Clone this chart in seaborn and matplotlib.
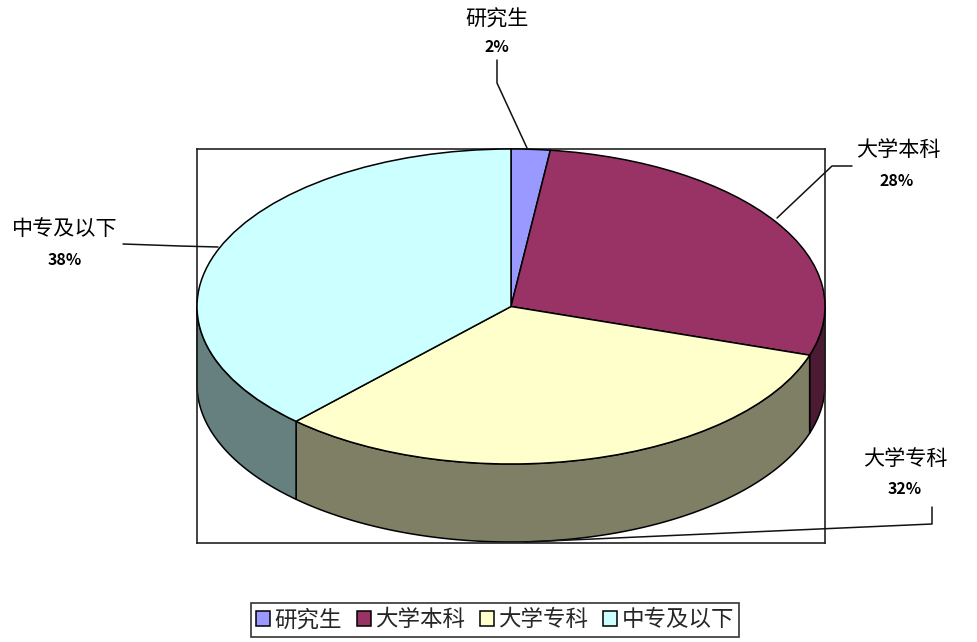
import numpy as np
import matplotlib
matplotlib.use("Agg")
import matplotlib.pyplot as plt
from matplotlib.lines import Line2D
import seaborn as sns

categories = ["研究生", "大学本科", "大学专科", "中专及以下"]
values = [2, 28, 32, 38]
percent_labels = ["2%", "28%", "32%", "38%"]
top_colors = ["#9999FF", "#993366", "#FFFFCC", "#CCFFFF"]
side_colors = ["#4D4D80", "#4D1A33", "#7F7F66", "#668080"]

sns.set_theme(style="white")
plt.rcParams["font.family"] = ["Noto Sans CJK SC", "DejaVu Sans"]

W, H = 978, 642
fig = plt.figure(figsize=(W / 100, H / 100), dpi=100, facecolor="white")


def fx(px):
    return px / W


def fy(py):
    return 1 - py / H


left, right, top, bottom = 197, 825, 149, 543
ax = fig.add_axes([fx(left), fy(bottom), fx(right - left), (bottom - top) / H])

palette = sns.color_palette(top_colors)
wedges, _ = ax.pie(
    values, colors=palette, startangle=90, counterclock=False, radius=1,
    wedgeprops=dict(edgecolor="black", linewidth=1.1, zorder=3),
)

# The axes keep data units: the pie is squashed by releasing the equal aspect.
ry_px = 157.5
depth = 78 / ry_px
ax.set_aspect("auto")
ax.set_xlim(-1, 1)
ax.set_ylim(1 - (bottom - top) / ry_px, 1)
ax.set_frame_on(True)
for s in ax.spines.values():
    s.set_visible(True)
    s.set_color("#222222")
    s.set_linewidth(1.2)

# Side wall of the visible front half
edges = np.cumsum([0] + values) / np.sum(values) * 360
for a0, a1, c in zip(edges[:-1], edges[1:], side_colors):
    lo, hi = max(a0, 90), min(a1, 270)
    if hi <= lo:
        continue
    t = np.radians(np.linspace(lo, hi, 120))
    xs = np.sin(t)
    ys = np.cos(t)
    ax.fill(np.r_[xs, xs[::-1]], np.r_[ys, ys[::-1] - depth],
            facecolor=c, edgecolor="black", linewidth=1.1, zorder=2, clip_on=False)

# Labels and leader lines (pixel positions on the figure)
label_pos = [(497, 20), (898, 150), (905, 459), (65, 229)]
pct_pos = [(497, 47), (897, 181), (905, 489), (65, 260)]
leaders = [
    [(497, 60), (497, 83), (527, 148)],
    [(852, 166), (832, 166), (777, 218)],
    [(932, 507), (932, 524), (525, 542)],
    [(123, 244), (180, 246), (218, 247)],
]
for name, pct, lp, pp, pts in zip(categories, percent_labels, label_pos, pct_pos, leaders):
    fig.text(fx(lp[0]), fy(lp[1]), name, ha="center", va="center", fontsize=15.2, color="black")
    fig.text(fx(pp[0]), fy(pp[1]), pct, ha="center", va="center", fontsize=11.5,
             fontweight="bold", color="black")
    fig.add_artist(Line2D([fx(p[0]) for p in pts], [fy(p[1]) for p in pts],
                          color="#111111", linewidth=1.1))

leg = fig.legend(
    wedges, categories, ncol=4, loc="center",
    bbox_to_anchor=(fx(495), fy(620)), fontsize=16.2,
    frameon=True, fancybox=False, framealpha=1, edgecolor="#333333",
    handlelength=0.62, handleheight=0.62, handletextpad=0.2,
    columnspacing=0.65, borderpad=0.25, borderaxespad=0,
)
leg.get_frame().set_linewidth(1.2)

fig.savefig("out.png", dpi=100, facecolor="white")
